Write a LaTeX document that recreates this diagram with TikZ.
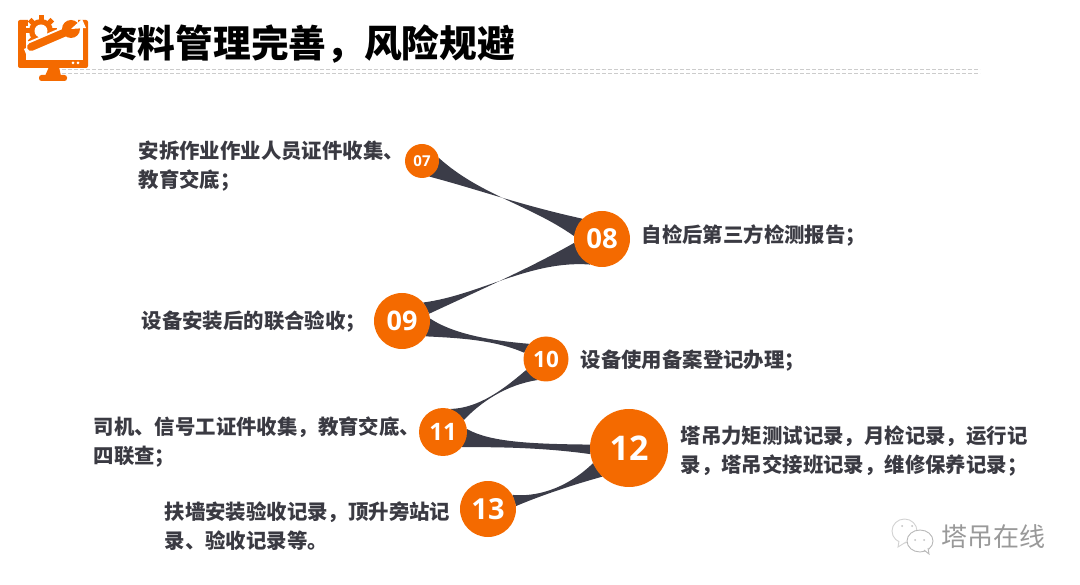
\documentclass[tikz,border=0pt]{standalone}
\usepackage{fontspec}
\setmainfont{Open Sans}
\newfontfamily\cjk{Noto Sans CJK SC}
\usepackage{xcolor}
\usepackage{tikz}
\usetikzlibrary{shapes,backgrounds}
\definecolor{ballorange}{HTML}{F46A00}
\definecolor{ribbongray}{HTML}{3B3C48}
\definecolor{labelgray}{HTML}{3A3A42}

\begin{document}
\begin{tikzpicture}[x=1pt,y=-1pt]
  % Styles
  \tikzset{
    ball/.style={circle, fill=ballorange, text=white, inner sep=0pt, font=\bfseries},
    ribbon/.style={fill=ribbongray},
    label/.style={anchor=base west, inner sep=0pt, text=labelgray, font=\cjk\bfseries\fontsize{20.4}{29}\selectfont},
    iconpart/.style={fill=ballorange},
    iconhole/.style={fill=white},
    rulerline/.style={gray!40, line width=1pt, dash pattern=on 3.5pt off 2.5pt},
    chat/.style={draw=gray!55, fill=white, line width=0.9pt}
  }
  \useasboundingbox (0,0) rectangle (1080,585);

  % Title
  \node[anchor=base west, inner sep=0pt, font=\cjk\bfseries\fontsize{37.7}{40}\selectfont] (title) at (100,58) {资料管理完善，风险规避};
  \coordinate (ruleleft) at (62,72);
  \coordinate (ruleright) at (980,72);
  \draw[rulerline] ([yshift=2pt]ruleleft) -- ([yshift=2pt]ruleright);
  \draw[rulerline] ([yshift=-2pt]ruleleft) -- ([yshift=-2pt]ruleright);

  % Monitor icon
  \fill[iconpart, rounded corners=2pt] (18,20) rectangle (88,68);
  \fill[iconhole] (26,26) rectangle (83,60);
  \fill[iconhole] (28,18) rectangle (78,26);
  \fill[iconpart] (49,67) -- (59,67) -- (61,76) -- (45,76) -- cycle;
  \fill[iconpart, rounded corners=2.5pt] (39,75) rectangle (67,81);
  \fill[iconhole] (73,63) circle (1.5) (78,63) circle (1.5);
  \foreach \a in {0,45,...,315}
    \fill[iconpart, rotate around={\a:(41,31)}] (38.5,15) rectangle (43.5,22);
  \fill[iconpart] (41,31) circle (12);
  \fill[iconhole] (41,31) circle (6.5);
  \fill[iconhole] (24,49) -- (68,31) -- (68,50) -- (28,59) -- cycle;
  \draw[white, line width=12pt] (31,47) -- (66,32);
  \draw[ballorange, line width=8pt, line cap=round] (31,47) -- (66,32);
  \fill[iconpart] (71,29) circle (9);
  \fill[iconhole] (71,29) -- (82,19) -- (86,28) -- cycle;

  % Balls
  \node[ball, minimum size=34pt, font=\bfseries\fontsize{15}{15}\selectfont] (n07) at (422,161) {07};
  \node[ball, minimum size=56pt, font=\bfseries\fontsize{27.5}{27.5}\selectfont] (n08) at (602,239) {08};
  \node[ball, minimum size=56pt, font=\bfseries\fontsize{27}{27}\selectfont] (n09) at (402,321) {09};
  \node[ball, minimum size=45pt, font=\bfseries\fontsize{22.5}{22.5}\selectfont] (n10) at (546,359) {10};
  \node[ball, minimum size=48pt, font=\bfseries\fontsize{24}{24}\selectfont] (n11) at (443,432) {11};
  \node[ball, minimum size=78pt, font=\bfseries\fontsize{34}{34}\selectfont] (n12) at (629,448) {12};
  \node[ball, minimum size=56pt, font=\bfseries\fontsize{29}{29}\selectfont] (n13) at (488,509) {13};

  % Ribbons
  \begin{scope}[on background layer]
    \fill[ribbon] (n07.10) .. controls (480,195) and (530,205) .. (n08.174) -- (n08.134)
      .. controls (520,205) and (480,190) .. (n07.-65) -- cycle;
    \fill[ribbon] (n08.188) .. controls (530,268) and (480,290) .. (n09.15) -- (n09.41)
      .. controls (480,295) and (530,260) .. (n08.-115) -- cycle;
    \fill[ribbon] (n09.5) .. controls (455,335) and (495,341) .. (n10.138) -- (n10.164)
      .. controls (495,340) and (460,338) .. (n09.-33) -- cycle;
    \fill[ribbon] (n11.72) .. controls (480,408) and (505,388) .. (n10.-151) -- (n10.-112)
      .. controls (505,385) and (480,403) .. (n11.30) -- cycle;
    \fill[ribbon] (n11.7) .. controls (490,442) and (530,444) .. (n12.175) -- (n12.-171)
      .. controls (540,447) and (490,447) .. (n11.-39) -- cycle;
    \fill[ribbon] (n13.30) .. controls (535,497) and (565,490) .. (n12.-157) -- (n12.-133)
      .. controls (565,487) and (535,498) .. (n13.6) -- cycle;
  \end{scope}

  % Labels
  \node[label, align=left] (text07) at (138.5,188) {安拆作业作业人员证件收集、\\教育交底；};
  \node[label] (text08) at (641.5,243) {自检后第三方检测报告；};
  \node[label] (text09) at (141.5,329) {设备安装后的联合验收；};
  \node[label] (text10) at (580.5,368) {设备使用备案登记办理；};
  \node[label, align=left] (text11) at (93.5,464) {司机、信号工证件收集，教育交底、\\四联查；};
  \node[label, align=left] (text12) at (680.5,472) {塔吊力矩测试记录，月检记录，运行记\\录，塔吊交接班记录，维修保养记录；};
  \node[label, align=left] (text13) at (164.5,548) {扶墙安装验收记录，顶升旁站记\\录、验收记录等。};

  % Watermark
  \node[anchor=base west, inner sep=0pt, text=gray!80, font=\cjk\fontsize{26}{26}\selectfont] (mark) at (941,546) {塔吊在线};
  \draw[chat, draw=gray!35] (904.5,531) ellipse (12.5 and 12);
  \draw[chat, draw=gray!35] (899,541) -- (898,547) -- (906,542);
  \draw[chat] (920,541) ellipse (13 and 11);
  \draw[chat] (924,550) -- (929,554) -- (928,548);
  \fill[gray!50] (902,526) circle (1) (912,526) circle (1) (915,540) circle (1) (924,540) circle (1);
\end{tikzpicture}
\end{document}
